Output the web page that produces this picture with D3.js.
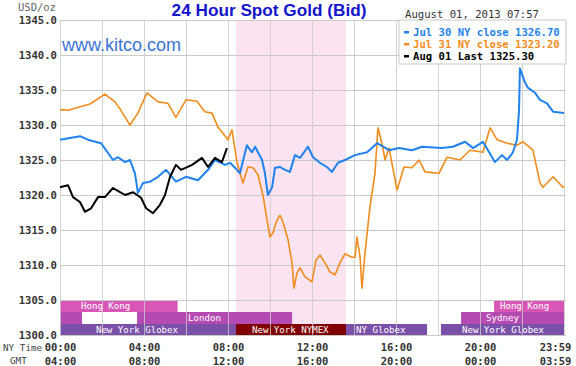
<!DOCTYPE html>
<html>
<head>
<meta charset="utf-8">
<script src="https://cdn.jsdelivr.net/npm/d3@7"></script>
<style>
  body { margin: 0; background: #fff; }
  svg { display: block; }
</style>
</head>
<body>
<svg id="chart" width="576" height="366"></svg>
<script>
// values, hour of NY day -> price
let jul30Hours = [0, 0.95, 1.33, 1.95, 2.29, 2.52, 2.76, 3.1, 3.33, 3.57, 3.71, 3.95, 4.29, 4.67, 5.05, 5.52, 6.0, 6.57, 7.05, 7.38, 7.86, 8.1, 8.33, 8.57, 8.9, 9.14, 9.29, 9.62, 9.76, 9.9, 10.1, 10.24, 10.48, 10.71, 10.95, 11.19, 11.43, 11.81, 12.05, 12.38, 12.71, 12.95, 13.24, 13.57, 14.05, 14.62, 15.1, 15.67, 16.14, 16.76, 17.24, 18.19, 18.71, 19.29, 19.67, 20.14, 20.38, 20.71, 21.05, 21.29, 21.57, 21.76, 21.86, 21.9, 22.14, 22.29, 22.62, 22.86, 23.19, 23.48, 24];
let jul30Values = [1327.9, 1328.4, 1327.9, 1327.4, 1326.0, 1325.0, 1325.4, 1324.7, 1325.0, 1323.1, 1320.3, 1321.7, 1321.9, 1322.6, 1323.6, 1321.9, 1322.6, 1322.1, 1323.6, 1325.0, 1324.3, 1324.6, 1323.9, 1323.1, 1327.1, 1326.1, 1326.9, 1325.0, 1323.1, 1320.0, 1321.1, 1323.9, 1324.0, 1323.6, 1323.3, 1325.7, 1325.3, 1326.9, 1325.4, 1324.6, 1324.0, 1323.3, 1324.6, 1325.0, 1325.7, 1326.1, 1327.4, 1326.4, 1326.7, 1326.4, 1326.9, 1326.7, 1326.9, 1327.6, 1326.7, 1327.6, 1326.4, 1324.7, 1325.7, 1325.0, 1326.1, 1327.9, 1332.1, 1338.1, 1336.1, 1335.3, 1334.6, 1333.6, 1333.1, 1331.9, 1331.7];

let jul31Hours = [0, 0.38, 0.95, 1.43, 2.14, 2.62, 2.9, 3.33, 3.71, 4.14, 4.67, 5.14, 5.52, 6.0, 6.52, 6.9, 7.24, 7.52, 8.0, 8.19, 8.43, 8.71, 8.95, 9.19, 9.43, 9.67, 9.86, 10.0, 10.14, 10.33, 10.48, 10.62, 10.86, 11.05, 11.14, 11.29, 11.43, 11.67, 12.0, 12.19, 12.38, 12.62, 12.86, 13.1, 13.33, 13.57, 13.9, 14.05, 14.14, 14.29, 14.38, 14.52, 14.76, 15.0, 15.14, 15.33, 15.48, 15.67, 16.05, 16.38, 16.76, 17.1, 17.38, 18.05, 18.43, 19.05, 19.52, 20.14, 20.48, 20.81, 21.29, 21.76, 22.05, 22.52, 22.86, 23.0, 23.48, 23.95, 24];
let jul31Values = [1332.2, 1332.1, 1332.6, 1333.0, 1334.4, 1333.3, 1332.1, 1330.0, 1331.7, 1334.6, 1333.3, 1333.1, 1331.1, 1333.6, 1333.4, 1331.9, 1331.7, 1329.7, 1327.9, 1329.3, 1324.6, 1321.7, 1324.0, 1323.9, 1322.9, 1319.9, 1316.4, 1314.0, 1314.6, 1316.4, 1317.1, 1316.1, 1313.6, 1310.3, 1306.7, 1308.9, 1309.6, 1308.3, 1307.6, 1310.7, 1311.4, 1310.3, 1309.0, 1308.6, 1310.3, 1311.6, 1311.1, 1311.1, 1314.0, 1311.1, 1306.7, 1311.6, 1318.3, 1323.1, 1329.6, 1327.4, 1325.0, 1326.7, 1320.7, 1324.0, 1323.9, 1325.0, 1323.3, 1323.1, 1325.4, 1325.0, 1326.4, 1326.1, 1329.6, 1327.9, 1327.4, 1327.1, 1327.6, 1326.4, 1321.7, 1321.1, 1322.6, 1321.1, 1321.3];

let aug01Hours = [0, 0.38, 0.62, 0.95, 1.19, 1.48, 1.81, 2.14, 2.52, 2.86, 3.1, 3.48, 3.86, 4.1, 4.43, 4.76, 5.0, 5.24, 5.52, 5.76, 6.0, 6.29, 6.76, 7.05, 7.38, 7.71, 7.95];
let aug01Values = [1321.1, 1321.4, 1319.7, 1319.0, 1317.6, 1318.1, 1319.7, 1319.7, 1321.0, 1320.4, 1320.0, 1320.4, 1319.6, 1318.1, 1317.4, 1318.6, 1320.0, 1322.6, 1324.3, 1323.6, 1323.9, 1324.3, 1325.3, 1324.0, 1325.3, 1324.7, 1326.7];

let legendLabels = ["Jul 30 NY close 1326.70", "Jul 31 NY close 1323.20", "Aug 01 Last 1325.30"];

let priceTicks = [1300, 1305, 1310, 1315, 1320, 1325, 1330, 1335, 1340, 1345];
let hourTicks = [0, 4, 8, 12, 16, 20, 24];
let nyTimeLabels = ["00:00", "04:00", "08:00", "12:00", "16:00", "20:00", "23:59"];
let gmtLabels = ["04:00", "08:00", "12:00", "16:00", "20:00", "00:00", "03:59"];

// NYMEX floor hours (shaded)
let nymexHours = [8.38, 13.62];

// trading sessions: row, from hour, to hour, label, label hour
let sessions = [
  { row: 0, from: 0, to: 5.6, name: "Hong Kong", label: "Hong Kong", at: 1.0 },
  { row: 0, from: 20.67, to: 24, name: "Hong Kong", label: "Hong Kong", at: 20.95 },
  { row: 1, from: 0, to: 1.05, name: "Sydney", label: "", at: 0 },
  { row: 1, from: 3.67, to: 11.05, name: "London", label: "London", at: 6.1 },
  { row: 1, from: 19.1, to: 24, name: "Sydney", label: "Sydney", at: 20.29 },
  { row: 2, from: 0, to: 8.38, name: "Globex", label: "New York Globex", at: 1.71 },
  { row: 2, from: 8.38, to: 13.62, name: "NYMEX", label: "New York NYMEX", at: 9.14 },
  { row: 2, from: 13.62, to: 17.48, name: "Globex", label: "NY Globex", at: 14.1 },
  { row: 2, from: 18.14, to: 24, name: "Globex", label: "New York Globex", at: 19.14 },
];

let sessionColors = {
  "Hong Kong": "#d857b6",
  "Sydney": "#b54ab3",
  "London": "#b54ab3",
  "Globex": "#7b50a8",
  "NYMEX": "#800000",
};

let mono = "'DejaVu Sans Mono', monospace";
let svg = d3.select("#chart");

let x = d3.scaleLinear().domain([0, 24]).range([60, 564]);
let y = d3.scaleLinear().domain([1300, 1345]).range([335, 20]);

// pink NYMEX band
svg.append("rect")
  .attr("x", x(nymexHours[0]))
  .attr("y", y(1345))
  .attr("width", x(nymexHours[1]) - x(nymexHours[0]))
  .attr("height", y(1300) - y(1345))
  .style("fill", "#fbe3f2");

// session bars
let rowTop = [300, 312, 324];
let rowH = 12;
svg.append("g")
  .selectAll("rect")
  .data(sessions)
  .enter()
  .append("rect")
  .attr("x", function (d) { return x(d.from); })
  .attr("y", function (d) { return rowTop[d.row]; })
  .attr("width", function (d) { return x(d.to) - x(d.from); })
  .attr("height", rowH)
  .style("fill", function (d) { return sessionColors[d.name]; });

// grid
let gridColor = "#c9c9c9";
svg.append("g")
  .attr("transform", "translate(0," + y(1300) + ")")
  .call(d3.axisBottom(x).tickValues(d3.range(0, 25, 2)).tickSize(-(y(1300) - y(1345))).tickFormat(""))
  .call(function (g) { g.select(".domain").remove(); })
  .call(function (g) { g.selectAll("line").style("stroke", gridColor).style("stroke-opacity", 0.8); });

svg.append("g")
  .attr("transform", "translate(" + x(0) + ",0)")
  .call(d3.axisLeft(y).tickValues(priceTicks).tickSize(-(x(24) - x(0) + 2)).tickFormat(""))
  .call(function (g) { g.select(".domain").remove(); })
  .call(function (g) { g.selectAll("line").style("stroke", gridColor); });

// session labels
svg.append("g")
  .selectAll("text")
  .data(sessions.filter(function (d) { return d.label !== ""; }))
  .enter()
  .append("text")
  .attr("x", function (d) { return x(d.at); })
  .attr("y", function (d) { return rowTop[d.row] + rowH / 2 + 0.5; })
  .attr("dominant-baseline", "middle")
  .style("font-family", mono)
  .style("font-size", "9.1px")
  .style("fill", "#fff")
  .text(function (d) { return d.label; });

// y labels
let yAxis = svg.append("g")
  .attr("transform", "translate(57,0)")
  .call(d3.axisLeft(y).tickValues(priceTicks).tickSize(0).tickPadding(0).tickFormat(d3.format(".1f")));
yAxis.select(".domain").remove();
yAxis.selectAll("text")
  .attr("dy", "0.3em")
  .style("font-family", mono)
  .style("font-weight", "bold")
  .style("font-size", "10.6px")
  .style("fill", "#333");

svg.append("text")
  .attr("x", 18).attr("y", 11)
  .style("font-family", mono).style("font-size", "10.5px").style("fill", "#666")
  .text("USD/oz");

// x labels
function timeAxis(labels, baseline) {
  let g = svg.append("g")
    .attr("transform", "translate(0," + baseline + ")")
    .call(d3.axisBottom(x).tickValues(hourTicks).tickSize(0).tickPadding(0)
      .tickFormat(function (d, i) { return labels[i]; }));
  g.select(".domain").remove();
  g.selectAll("text")
    .attr("y", 0)
    .attr("dy", 0)
    .attr("dx", function (d) { return d === 24 ? -9 : 0; })
    .style("font-family", mono)
    .style("font-weight", "bold")
    .style("font-size", "10.5px")
    .style("fill", "#333");
}
timeAxis(nyTimeLabels, 351);
timeAxis(gmtLabels, 365);

svg.append("text").attr("x", 3).attr("y", 351)
  .style("font-family", mono).style("font-size", "9.3px").style("fill", "#444")
  .text("NY Time");
svg.append("text").attr("x", 10).attr("y", 364)
  .style("font-family", mono).style("font-size", "9.3px").style("fill", "#444")
  .text("GMT");

// title & site
svg.append("text")
  .attr("x", 269).attr("y", 16)
  .attr("text-anchor", "middle")
  .style("font-family", "'Liberation Sans', Arial, sans-serif")
  .style("font-weight", "bold")
  .style("font-size", "17.2px")
  .style("fill", "#1414cc")
  .text("24 Hour Spot Gold (Bid)");

svg.append("text")
  .attr("x", 62).attr("y", 51)
  .style("font-family", "'Liberation Sans', Arial, sans-serif")
  .style("font-size", "18px")
  .style("fill", "#3a74d6")
  .text("www.kitco.com");

// legend
svg.append("rect")
  .attr("x", 399).attr("y", 20)
  .attr("width", 167).attr("height", 44)
  .style("fill", "#fff")
  .style("stroke", "#c9c9c9");

svg.append("text")
  .attr("x", 405).attr("y", 18)
  .style("font-family", mono).style("font-size", "10.6px").style("fill", "#333")
  .text("August 01, 2013 07:57");

let seriesColors = ["#1f82ee", "#f28c1c", "#000"];
let leg = svg.append("g");
leg.selectAll("rect")
  .data(legendLabels)
  .enter()
  .append("rect")
  .attr("x", 404)
  .attr("y", function (d, i) { return 31 + i * 12; })
  .attr("width", 5).attr("height", 2.5)
  .style("fill", function (d, i) { return seriesColors[i]; });
leg.selectAll("text")
  .data(legendLabels)
  .enter()
  .append("text")
  .attr("x", 413)
  .attr("y", function (d, i) { return 36 + i * 12; })
  .style("font-family", mono)
  .style("font-weight", "bold")
  .style("font-size", "10.6px")
  .style("fill", function (d, i) { return seriesColors[i]; })
  .text(function (d) { return d; });

// price lines
let line = d3.line()
  .x(function (d) { return x(d[0]); })
  .y(function (d) { return y(d[1]); });

let series = [
  { hours: jul31Hours, values: jul31Values, color: seriesColors[1], w: 1.6 },
  { hours: jul30Hours, values: jul30Values, color: seriesColors[0], w: 2 },
  { hours: aug01Hours, values: aug01Values, color: seriesColors[2], w: 2 },
];

svg.append("g")
  .selectAll("path")
  .data(series)
  .enter()
  .append("path")
  .attr("d", function (d) { return line(d3.zip(d.hours, d.values)); })
  .style("fill", "none")
  .style("stroke", function (d) { return d.color; })
  .style("stroke-width", function (d) { return d.w; })
  .style("stroke-linejoin", "round");
</script>
</body>
</html>
